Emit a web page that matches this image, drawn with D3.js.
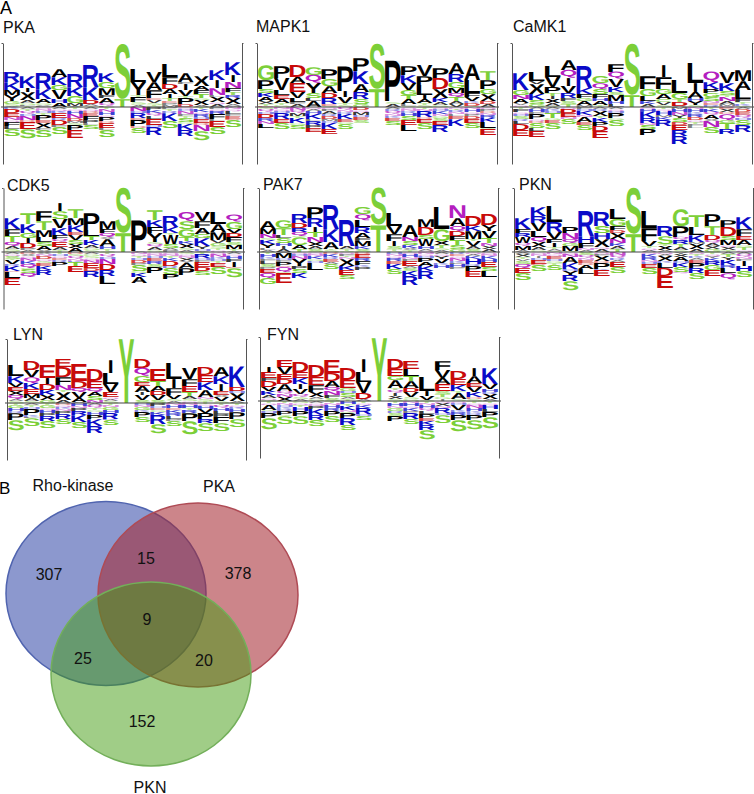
<!DOCTYPE html>
<html>
<head>
<meta charset="utf-8">
<script src="https://d3js.org/d3.v7.min.js"></script>
<style>
  html, body { margin: 0; padding: 0; background: #fff; }
  svg { display: block; }
  text { font-family: "Liberation Sans", Arial, sans-serif; }
</style>
</head>
<body>
<div id="chart"></div>
<script>
// logo stacks: letter + height, listed from top to bottom
const pkaUp = ["R10 K8 M5 Y6 G3 S2 A1", "K12 I4 X8 A3 G2 L1 T1", "R16 K10 A4 G2 V1 P1", "A8 K8 G5 V9 H4 A4", "R13 K9 G7 M3 A1", "R22 K13 D4 A2 T1", "K9 G6 M7 F3 A5 Q3 L1", "S55 T8", "L13 Y13 T2 F5 S2 G1 A2", "V10 A8 F8 E2 V3 S2 T1 G1", "L13 F7 D5 A5 I4 T3 E2 P2 M2", "A9 F2 I6 V6 T2 P6 D3", "X10 A4 F4 T4 G2 X5 A2", "K10 I8 N7 L2 X5 Q2 A3", "K13 I7 N6 F4 T3 R3 X6 A2 M1"];
const pkaDown = ["K2 D4 E4 N3 Q2 F4 L3 S7", "A2 T2 Q3 H2 N4 D2 E7 S9", "Q2 N2 H2 T2 P5 E3 X5 F2 S7", "A2 Q2 K2 E5 R2 D5 F2 S7", "T2 Q2 H3 N4 D3 M2 S2 P5 E8", "A2 Q2 D2 E3 F4 P3 L2 S4", "T2 N3 H3 Q2 P4 D2 E5 L2 S7", "", "N4 H2 R5 E2 P6 D2 S5", "P3 K3 Q3 L3 E6 H2 R8", "P2 T2 R2 K8 S7", "Q2 H2 N3 F2 T2 S4 G2 K6 R6", "T2 K3 Q2 R3 H2 E4 D2 N6 S9", "P2 Q2 R3 F5 L2 E6 S7", "N2 Q2 L3 F2 E3 D1 S7"];

const mapk1Up = ["G15 P9 S4 K4 A4 X3 T2 E1", "P12 V12 L5 E4 A4 T2 G2", "D12 A6 E9 V6 L4 F2 A3", "G8 Q8 Y10 S5 L3 A6", "P10 G7 A7 D5 R6 E2 S1", "P25 I6 V6 T2 S2", "P13 K13 A8 R7 S5 G3", "S45 T18", "P41 S2 A3", "P9 K8 V7 G5 T4 A5 L2 S1", "V11 P9 L10 I4 A4 T2 S2", "P10 D11 X9 K4 A3 G2", "A11 R8 G6 M5 Q4 T4 A3 V3", "A16 L13 F4 V4 K2 D3 S1", "T9 P9 G5 X7 D3 A3"];
const mapk1Down = ["S2 Q3 H2 D4 R3 N3 L4", "N2 Q2 H2 R6 E4 S6", "N3 Q3 M3 T2 K5 G2 S4", "Q2 A2 H3 K5 L2 R4 P3 E4", "Q2 F2 A3 R2 D3 M2 H2 K6 E5", "Q3 N2 R2 K5 E3 G2 S5", "D3 Q2 M3 H2 E3 S3", "", "A2 R2 Q3 N2 K2 E3 S4", "Q2 N2 R2 H3 S4 E5 L6", "T2 N2 R6 D2 E4 S6", "Q2 H2 K3 N2 G2 S3 E4 R7", "Q2 T1 R2 N2 L2 E3 K7", "N2 H3 Q2 P2 D3 E4 S5", "Q2 P2 D2 N2 R3 K4 L6 G1 E6"];

const camk1Up = ["K17 G5 N4 A4 V2 Q2", "L9 V3 X10 K6 S4 G3", "L11 V10 P6 T3 I3 X4 A3 G1", "A10 Q8 I8 V7 R5 F3 S3 T3", "R22 K6 F4 G3 A4 M2", "G7 Q6 S5 F4 H3 A4 T2", "F8 Q7 V8 K5 S3 M6 H3 L3", "S51 T12", "F13 G7 L5 K3 A3", "I12 F12 G5 A5 C3 V3 S2", "L13 G6 T3 D4 V1", "L20 I9 A6 H3 Y4 S2", "Q11 K7 P4 G4 S4 N2 E2 R2", "V11 K8 S4 T2 N4 A3 M2 Q1", "M11 A9 L9 F3 T2 K2 S1"];
const camk1Down = ["T2 F3 Q2 H2 S3 R2 L3 D6 E6", "A2 H3 F2 P5 Q2 D2 S5 L3 E6", "A2 K2 H2 T5 G2 E3 S6", "Q2 D4 E4 N2 S5", "F2 H2 K4 N2 A5 E3 S5", "A2 R2 X5 T2 K4 P4 D5 E7", "A2 Q2 H2 P5 G2 S6", "", "Q2 H3 K6 R5 N2 S4 P6", "T2 Q2 H4 M2 K3 R6", "M2 H3 N3 Y3 S4 D3 E5 R6 R8", "N2 H3 K2 R3 D3 Q2 T2 F2 L2", "T2 K3 Q3 A4 X2 N6 S6", "E2 X3 D2 Q6 G3 T6 R5", "A2 D3 E3 Q3 H2 S5 R7"];

const cdk5Up = ["K11 F7 T6 Q4 A3 S2 G1", "T11 K9 G5 I5 D5 P2 A2", "F10 T9 M7 L5 S4 A4 X2", "I8 S8 V9 K7 F4 Q3 E5 A3 T2", "T9 M7 K7 E3 V5 S4 X4 A4", "P17 L6 T4 K5 A3 G2 S2", "M8 F4 Q4 X2 A7 H3 T2 S1", "S45 T19", "P31 A1", "T10 K7 F6 Y9 S2 Q3 A3 G2", "R11 K6 T2 W9 S4 A2 P2", "Q9 S8 G8 T4 K3 X4 S2 A2", "V9 F7 A6 G4 K8 Y3 H2 A1", "L12 A8 M8 V3 G3 S2 T2 Q2", "Q7 G7 V4 D4 F5 S3 M4 T2 A1"];
const cdk5Down = ["A2 Q2 S3 T1 V4 R2 K5 D1 L6 E7", "D2 X2 Q2 N3 K3 Q4 G1 S4 Q4", "X2 N2 D3 Q2 S2 E3 K4 R5", "T2 H2 Q2 E2 R2 P4", "D2 S2 Q3 N2 K1 T4 E6", "A2 G2 S2 Q2 N3 E5 D3 R6", "T2 Q3 H2 N5 D6 R6 L8", "", "N2 Q2 T2 H2 D3 P2 S6 G2 K4 A6", "Q2 N2 H2 E3 R3 S3 P6", "Q2 N2 T2 K3 D5 R2 S6 P5", "S2 Q2 N2 X3 Y2 A5 P7", "T2 R4 H2 F2 E5 D4 S4", "Q2 N3 K2 H2 T2 E4 S7", "A2 Q2 H3 F3 I5 E1 S9"];

const pak7Up = ["A8 M5 N4 S2 K4 Y4 L2 A2", "G8 T7 L3 S5 H3 I3 A3", "R9 D5 R4 Q4 G1 C8 A4 T3", "P11 R9 I5 T5 N5 X4 A3 S3", "R24 K13 A7 T1 S2", "R26 A3 T2 S1", "G7 Q6 L7 R6 A5 F3 M5 K3 S3", "S37 T27", "L13 V8 F7 I5 S3 T2 G1", "A12 N4 S4 K3 X2 T2", "M8 D8 S4 W7 H3 A2 Q1", "L22 G12 X4 T3 S2 A2", "N13 A8 Q5 D5 F4 T5 S4 G3", "D10 K5 M8 T2 V5 A3 S3", "D11 Y6 V7 T5 N3 X3 A3"];
const pak7Down = ["T2 H3 K2 F2 L3 S3 P2 E4 Q5 G6", "A1 M5 H2 F2 P4 D1 Q5 G1 E10", "Q2 H2 N3 Y7 P3 S4 K5", "Q2 N2 K3 G2 H2 L7", "D2 K3 R2 E3 A2 S5", "Q2 F2 T1 N2 X7 K4 E5 S4", "D2 E4 R3 F4 K2 P3", "", "H2 N2 Q2 R3 E3 K5 S5", "Q2 H3 N2 F2 E5 A2 S3 K5 R9", "N2 Q2 H2 P4 A4 K5 R8", "A2 Q2 Y3 V4 K2 H3", "R2 E2 Q2 N3 K2 F1 H3 P2", "Q2 A2 K3 H5 R2 P5 E6", "Q2 N2 K3 H3 E5 S4 L6"];

const pknUp = ["K11 F4 R4 W6 Q3 M4 A2", "K9 R7 V8 L6 Q5 X5 A3 G2", "L16 R10 V7 F4 I4 T2 A2 S1", "P6 N6 Q4 G3 M5 S1", "R25 H7 F5 N2 A2", "R14 S7 H6 X8 Q2 A3", "L10 G7 F4 D3 X6 N4 K3 A3 T3", "S46 T18", "L17 F13 V5 T2 Q2 A2", "R10 S8 T2 X4 A2", "G17 P11 Q3 R4 T3 A3 S2", "T12 L8 K7 M2 X5 A3", "P12 T9 D5 Q3 A3 X3 G3", "P7 D9 S4 M5 Q2 X3 T2", "K12 F7 E4 A5 G2 T3 Q2"];
const pknDown = ["A2 X3 T2 V2 S3 Q4 E5 S7", "Q2 N2 I2 H2 E4 D1 S6", "N2 Q2 E3 H2 G2 T2 S5", "Q2 N3 A6 K6 H2 Y4 R6 S9", "S3 Q3 N2 E3 D2 A4 L5", "Q2 F2 X5 D2 P6 K1 E6", "N3 Q3 R2 A2 E5 S6", "", "Q2 K3 R3 N2 H2 E4 S6", "Q2 A2 X5 K2 L5 D8 E12", "Y2 X3 A4 H2 K4 S5 Q1", "Q2 T2 K2 A2 E3 P5 R5 S6", "T2 Q2 Y2 K3 R4 G5 E6", "A2 T3 Y3 K5 R3 L5 Q6", "A2 Q3 N2 F2 I5 H5 S6"];

const lynUp = ["L11 K7 V4 E4 X4 Q4 A2 S2", "D9 V7 Q6 K6 E5 M4 A3 S2", "E13 I6 D6 K5 X5 G3", "E8 D10 F8 N5 T2 X8 A3", "E17 D7 Q4 V6 A4 X1", "D12 E7 Q4 A4 S4 N3", "I13 L11 V8 E5 Q2 A2 S2", "Y64", "D9 Q8 G6 E4 A6 I3 V5 S3", "E12 T5 A5 D4 V5 S3", "L16 I9 F7 V4 S2 A2", "V11 F7 E6 T4 A3 S2 Q2", "D8 E7 K8 A7 N2 S2 T2", "A9 K8 I7 E4 X2 V4 S2", "K21 D4 H2 X8 A2"];
const lynDown = ["T2 G3 H3 R2 P7 S10", "A2 T2 H2 P6 K2 L1 S8", "T2 G3 Q2 H3 P3 R5 S7", "D2 Q2 K2 N2 P3 R5 S5", "H3 N2 P3 R4 K7 S6", "A2 Q3 T2 G2 H3 P4 K7 R7", "T2 N2 G3 H3 R6 K1 S5", "", "H2 N2 G3 K2 P5 S5", "P3 H2 E2 G2 K3 R9 S9", "N2 H3 E2 K3 R3 L3 P2 S5", "N2 H3 T2 R3 P8 S13", "T1 Q2 H3 V4 P6 R4 S8", "T2 Q3 H3 L3 P3 F6 S8", "T2 Q2 K2 H3 P7 S8"];

const fynUp = ["I5 E6 F3 D6 V4 K4 A3 Q2 S1", "E7 V7 E5 D5 A7 Q3 N3 X4", "D10 E6 K6 I5 V5 Q3 S2 A2", "D12 E8 F7 X5 A2 G2", "E13 D8 A6 Q4 N4 F3 S3", "D12 E8 G3 H2 S4 A2 T2", "I13 L10 V11 D6 A2", "Y63", "D10 E7 G4 A8 T2 Q3 I3 X3 S2", "E8 L7 T5 A7 D4 V5 S2 G2", "L14 I5 V4 S1", "F9 V8 A6 E7 S3 T3 G2 I2", "D8 E6 K6 T2 A6 S2", "I8 A7 E4 V5 K5 D2 S2", "K16 V5 H3 R2 X5 A2"];
const fynDown = ["T2 Q2 A5 G1 H2 P5 S11", "T2 N2 H2 K2 R2 P4 G1 S8", "G2 Q2 T2 H4 P5 S8", "A2 Q2 N1 P3 K6 R5 S6", "T2 N2 H3 R3 P5 S6", "H3 T2 K4 N2 G1 P5 R7 S5", "T2 Q2 K3 R6 H2 S4", "", "T2 H3 N2 G3 R2 S3 P5", "N2 H3 Q2 K3 P2 R6 S5", "T2 N2 H3 Q3 L3 P4 E3 K4 R5 S9", "Q2 X3 N2 R5 H2 S8", "Q2 H2 V5 K2 R3 P5 S11", "T2 Q2 N3 H3 K2 R2 P5 S9", "T2 Q2 H4 L3 P5 S11"];

// venn labels and counts
const vennSets = ["Rho-kinase", "PKA", "PKN"];
const vennCounts = [307, 378, 152, 15, 25, 20, 9];

const width = 754, height = 794;
const logoDomain = [-57, 64];
const positions = d3.range(15);

const letterColor = (l) => {
  if ("KRH".includes(l)) return "#0a0ac8";
  if ("DE".includes(l)) return "#c80a0a";
  if ("GSTC".includes(l)) return "#7ccf38";
  if ("NQ".includes(l)) return "#b41ec0";
  return "#000";
};
const centerColor = "#7ccf38";

// name, stacks, left, right, top, bottom of the axes, title position
const panels = [
  { name: "PKA", up: pkaUp, down: pkaDown, l: 3, r: 242, t: 43, b: 164, tx: 3, ty: 33 },
  { name: "MAPK1", up: mapk1Up, down: mapk1Down, l: 257, r: 497, t: 43, b: 164, tx: 256, ty: 32 },
  { name: "CaMK1", up: camk1Up, down: camk1Down, l: 512, r: 752, t: 43, b: 164, tx: 513, ty: 32 },
  { name: "CDK5", up: cdk5Up, down: cdk5Down, l: 3.5, r: 243, t: 188, b: 309, tx: 7, ty: 191 },
  { name: "PAK7", up: pak7Up, down: pak7Down, l: 259, r: 498, t: 188, b: 309, tx: 263, ty: 190 },
  { name: "PKN", up: pknUp, down: pknDown, l: 514, r: 753, t: 188, b: 309, tx: 519, ty: 190 },
  { name: "LYN", up: lynUp, down: lynDown, l: 7, r: 246, t: 339, b: 460, tx: 13, ty: 340 },
  { name: "FYN", up: fynUp, down: fynDown, l: 260, r: 499, t: 337, b: 458, tx: 267, ty: 340 },
];

const svg = d3
  .select("#chart")
  .append("svg")
  .attr("width", width)
  .attr("height", height);

// ink box of every letter, so a glyph can be stretched to fill its slot exactly
const ctx = document.createElement("canvas").getContext("2d");
ctx.font = 'bold 100px "Liberation Sans"';
const ink = (l) => {
  const m = ctx.measureText(l);
  return {
    left: m.actualBoundingBoxLeft,
    w: m.actualBoundingBoxLeft + m.actualBoundingBoxRight,
    asc: m.actualBoundingBoxAscent,
    h: m.actualBoundingBoxAscent + m.actualBoundingBoxDescent,
  };
};

const parseStack = (s) =>
  Array.from(s.matchAll(/([A-Z])([\d.]+)/g), (m) => ({ letter: m[1], value: +m[2] }));

panels.forEach((p) => {
  const x = d3.scaleBand().domain(positions).range([p.l + 1, p.r - 1]);
  const y = d3.scaleLinear().domain(logoDomain).range([p.b, p.t]);
  const g = svg.append("g");

  g.append("text")
    .attr("x", p.tx)
    .attr("y", p.ty)
    .attr("font-size", 16)
    .attr("fill", "#111")
    .text(p.name);

  // up stacks end on the baseline, down stacks start from it
  const letters = [];
  positions.forEach((i) => {
    const up = parseStack(p.up[i]);
    let top = d3.sum(up, (d) => d.value);
    up.forEach((d) => {
      letters.push({ ...d, pos: i, start: top });
      top -= d.value;
    });
    let below = 0;
    parseStack(p.down[i]).forEach((d) => {
      letters.push({ ...d, pos: i, start: below });
      below -= d.value;
    });
  });

  g.selectAll("text.letter")
    .data(letters)
    .enter()
    .append("text")
    .attr("class", "letter")
    .attr("font-size", 100)
    .attr("font-weight", "bold")
    .attr("text-rendering", "geometricPrecision")
    .attr("fill", (d) => (d.pos === 7 ? centerColor : letterColor(d.letter)))
    .attr("fill-opacity", (d) => (d.value < 3 ? 0.5 : d.value < 4 ? 0.8 : 1))
    .attr("transform", (d) => {
      const box = ink(d.letter);
      // I keeps a thin stroke in the middle of its column, the rest fill it
      const sx = x.bandwidth() / (d.letter === "I" ? 75 : box.w);
      const sy = (y(d.start - d.value) - y(d.start)) / box.h;
      const dx = (x.bandwidth() - box.w * sx) / 2;
      return `translate(${x(d.pos) + dx},${y(d.start)}) scale(${sx},${sy}) translate(${box.left},${box.asc})`;
    })
    .text((d) => d.letter);

  g.append("line")
    .attr("x1", p.l - 2)
    .attr("x2", p.r + 2)
    .attr("y1", y(0))
    .attr("y2", y(0))
    .attr("stroke", "#444")
    .attr("stroke-width", 1.2);

  const left = g
    .append("g")
    .attr("transform", `translate(${p.l},0)`)
    .call(d3.axisLeft(y).tickValues([logoDomain[1]]).tickSize(1.5).tickSizeOuter(0).tickFormat(""));
  const right = g
    .append("g")
    .attr("transform", `translate(${p.r},0)`)
    .call(d3.axisRight(y).tickValues([logoDomain[1]]).tickSize(1.5).tickSizeOuter(0).tickFormat(""));
  [left, right].forEach((a) => {
    a.selectAll("path, line").attr("stroke", "#555").attr("stroke-width", 1);
  });
});

// panel letters
svg.append("text").attr("x", 0).attr("y", 14).attr("font-size", 18).text("A");
svg.append("text").attr("x", -1).attr("y", 494).attr("font-size", 17).text("B");

// Venn diagram, drawn blue, red, green so the overlaps mix like the original
const vennShape = [
  { cx: 106, cy: 593.5, fill: "rgb(79,97,180)", a: 0.65, stroke: "rgb(80,100,175)", lx: 73, ly: 491 },
  { cx: 198, cy: 595, fill: "rgb(165,40,50)", a: 0.57, stroke: "rgb(175,75,85)", lx: 219, ly: 492 },
  { cx: 151, cy: 674, fill: "rgb(65,155,15)", a: 0.5, stroke: "rgb(115,175,90)", lx: 150, ly: 793 },
];
const countSpots = [[49, 574.5], [238, 573.5], [142, 721], [146, 558], [83, 658], [204, 660], [147, 619]];

svg
  .selectAll("ellipse")
  .data(vennShape)
  .enter()
  .append("ellipse")
  .attr("cx", (d) => d.cx)
  .attr("cy", (d) => d.cy)
  .attr("rx", 100)
  .attr("ry", 92)
  .attr("fill", (d) => d.fill)
  .attr("fill-opacity", (d) => d.a)
  .attr("stroke", (d) => d.stroke)
  .attr("stroke-width", 1.5);

svg
  .selectAll("text.setname")
  .data(vennSets)
  .enter()
  .append("text")
  .attr("class", "setname")
  .attr("x", (d, i) => vennShape[i].lx)
  .attr("y", (d, i) => vennShape[i].ly)
  .attr("text-anchor", "middle")
  .attr("font-size", 16)
  .attr("fill", "#111")
  .text((d) => d);

svg
  .selectAll("text.count")
  .data(vennCounts)
  .enter()
  .append("text")
  .attr("class", "count")
  .attr("x", (d, i) => countSpots[i][0])
  .attr("y", (d, i) => countSpots[i][1])
  .attr("dy", "0.36em")
  .attr("text-anchor", "middle")
  .attr("font-size", 16)
  .attr("fill", "#111")
  .text((d) => d);
</script>
</body>
</html>
